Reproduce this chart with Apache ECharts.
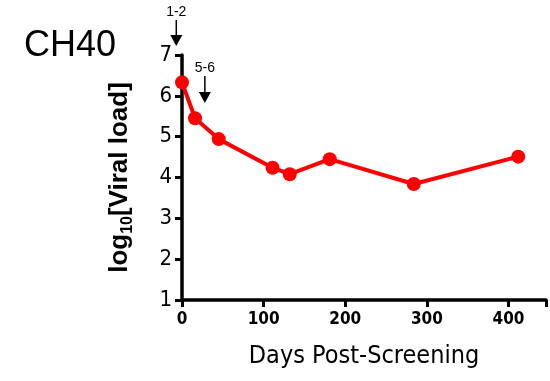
<!DOCTYPE html>
<html><head><meta charset="utf-8">
<script src="https://cdn.jsdelivr.net/npm/echarts@6/dist/echarts.min.js"></script>
<style>html,body{margin:0;padding:0;background:#fff}#c{width:550px;height:381px}</style>
</head><body><div id="c"></div>
<script>
var days = [0, 16, 45, 111, 132, 181, 284, 412];
var viralLoad = [6.33, 5.45, 4.94, 4.24, 4.08, 4.45, 3.84, 4.51];
var xTicks = [0, 100, 200, 300, 400];
var yTicks = [1, 2, 3, 4, 5, 6, 7];
var annotations = [{label: '1-2', day: -7}, {label: '5-6', day: 28}];

var narrow = "'DejaVu Sans Condensed','Liberation Sans Narrow','Arial Narrow',sans-serif";
var chart = echarts.init(document.getElementById('c'), null, {renderer: 'canvas'});
var points = days.map(function (d, i) { return [d, viralLoad[i]]; });
chart.setOption({
  animation: false,
  title: {text: 'CH40', left: 19, top: 23, textStyle: {fontFamily: "'Liberation Sans',Arial,sans-serif", fontWeight: 'normal', fontSize: 36, color: '#000'}},
  grid: {left: 182, right: 4, top: 55, bottom: 81, containLabel: false},
  xAxis: {
    type: 'value', min: 0, max: 446, interval: 100,
    name: 'Days Post-Screening', nameLocation: 'middle', nameGap: 44,
    nameTextStyle: {fontFamily: narrow, fontSize: 25, color: '#000'},
    axisLine: {lineStyle: {color: '#000', width: 3.5}},
    axisTick: {show: true, length: 7, lineStyle: {color: '#000', width: 3}},
    axisLabel: {fontFamily: narrow, fontWeight: 'bold', fontSize: 17, color: '#000', margin: 11,
      formatter: function (v) { return xTicks.indexOf(v) >= 0 ? String(v) : ''; }},
    splitLine: {show: false}
  },
  yAxis: {
    type: 'value', min: 1, max: 7, interval: 1,
    name: '{a|log}{b|10}{a|[Viral load]}', nameLocation: 'middle', nameGap: 46, nameRotate: 90,
    nameTextStyle: {rich: {
      a: {fontFamily: "'Liberation Sans',Arial,sans-serif", fontWeight: 'bold', fontSize: 26, color: '#000'},
      b: {fontFamily: "'Liberation Sans',Arial,sans-serif", fontWeight: 'bold', fontSize: 16, color: '#000', verticalAlign: 'bottom', padding: [16, 0, 0, 0]}
    }},
    axisLine: {show: true, lineStyle: {color: '#000', width: 3.5}},
    axisTick: {show: true, length: 7, lineStyle: {color: '#000', width: 3}},
    axisLabel: {fontFamily: narrow, fontSize: 22, color: '#000', margin: 10,
      formatter: function (v) { return yTicks.indexOf(v) >= 0 ? String(v) : ''; }},
    splitLine: {show: false}
  },
  series: [{
    type: 'line', data: points, symbol: 'circle', symbolSize: 14,
    lineStyle: {color: '#ff0000', width: 4}, itemStyle: {color: '#ff0000'}, clip: false
  }]
});

var g = [];
var specs = [{yl: 5, y1: 20, y2: 46}, {yl: 61, y1: 76, y2: 103}];
annotations.forEach(function (a, i) {
  var x = chart.convertToPixel({gridIndex: 0}, [a.day, 1])[0];
  var s = specs[i];
  g.push({type: 'text', x: x, y: s.yl, style: {text: a.label, fontFamily: "'Liberation Sans',Arial,sans-serif", fontSize: 14, fill: '#000', textAlign: 'center', textVerticalAlign: 'top'}});
  g.push({type: 'line', shape: {x1: x, y1: s.y1, x2: x, y2: s.y2 - 8}, style: {stroke: '#000', lineWidth: 1.5}});
  g.push({type: 'polygon', shape: {points: [[x - 6, s.y2 - 11], [x + 6, s.y2 - 11], [x, s.y2]]}, style: {fill: '#000'}});
});
chart.setOption({graphic: g});
</script></body></html>
